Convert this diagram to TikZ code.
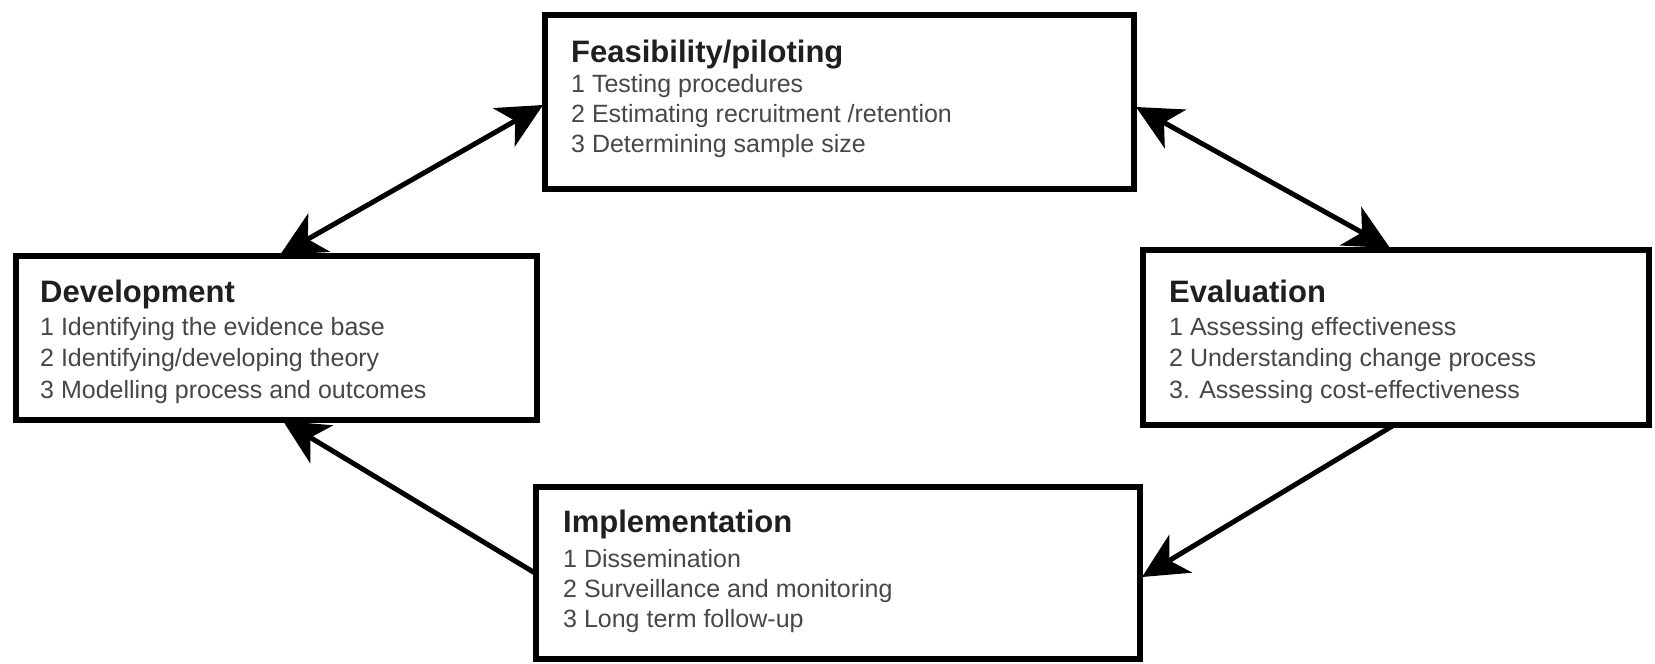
\documentclass[tikz,border=0pt]{standalone}
\usepackage{fontspec}
\setmainfont{Liberation Sans}
\usetikzlibrary{arrows.meta}
\tikzset{
  box/.style={draw=black, line width=5.5pt, fill=white, inner sep=0pt},
  ttl/.style={anchor=base west, inner sep=0pt, font=\fontsize{31}{34}\selectfont\bfseries, text=black!88},
  itm/.style={anchor=base west, inner sep=0pt, align=left, font=\fontsize{25}{30}\selectfont, text=black!72},
  itmw/.style={itm, font=\fontsize{25}{31.5}\selectfont},
  tip/.tip={Stealth[length=45pt,width=44pt,inset=13pt]},
  conn/.style={line width=5pt, -tip},
  biconn/.style={line width=5pt, tip-tip}
}
\begin{document}
\begin{tikzpicture}[x=1pt,y=-1pt]
\useasboundingbox (0,0) rectangle (1655,664);
% boxes
\node[box, minimum width=589pt, minimum height=174pt] (f) at (839.5,102) {};
\node[box, minimum width=521pt, minimum height=164pt] (d) at (276.5,338) {};
\node[box, minimum width=506pt, minimum height=175pt] (e) at (1396,337.5) {};
\node[box, minimum width=604pt, minimum height=172pt] (i) at (838,573) {};
% texts
\node[ttl] (fT) at (571,62) {Feasibility/piloting};
\node[itm] (fL) at (571,152) {1 Testing procedures\\2 Estimating recruitment /retention\\3 Determining sample size};
\node[ttl] (dT) at (40,302) {Development};
\node[itmw] (dL) at (40,398) {1 Identifying the evidence base\\2 Identifying/developing theory\\3 Modelling process and outcomes};
\node[ttl] (eT) at (1169,302) {Evaluation};
\node[itmw] (eL) at (1169,398) {1 Assessing effectiveness\\2 Understanding change process\\3. Assessing cost-effectiveness};
\node[ttl] (iT) at (563,532) {Implementation};
\node[itm] (iL) at (563,627) {1 Dissemination\\2 Surveillance and monitoring\\3 Long term follow-up};
% connector ends
\coordinate (dN) at (280,255);
\coordinate (fW) at (543,105);
\coordinate (fE) at (1136,107);
\coordinate (eN) at (1390,248);
\coordinate (eS) at (1394,425);
\coordinate (iE) at (1142,577);
\coordinate (iW) at (535,573);
\coordinate (dS) at (283,421);
% connectors
\draw[biconn] (dN) -- (fW);
\draw[biconn] (fE) -- (eN);
\draw[conn] (eS) -- (iE);
\draw[conn] (iW) -- (dS);
\end{tikzpicture}
\end{document}
